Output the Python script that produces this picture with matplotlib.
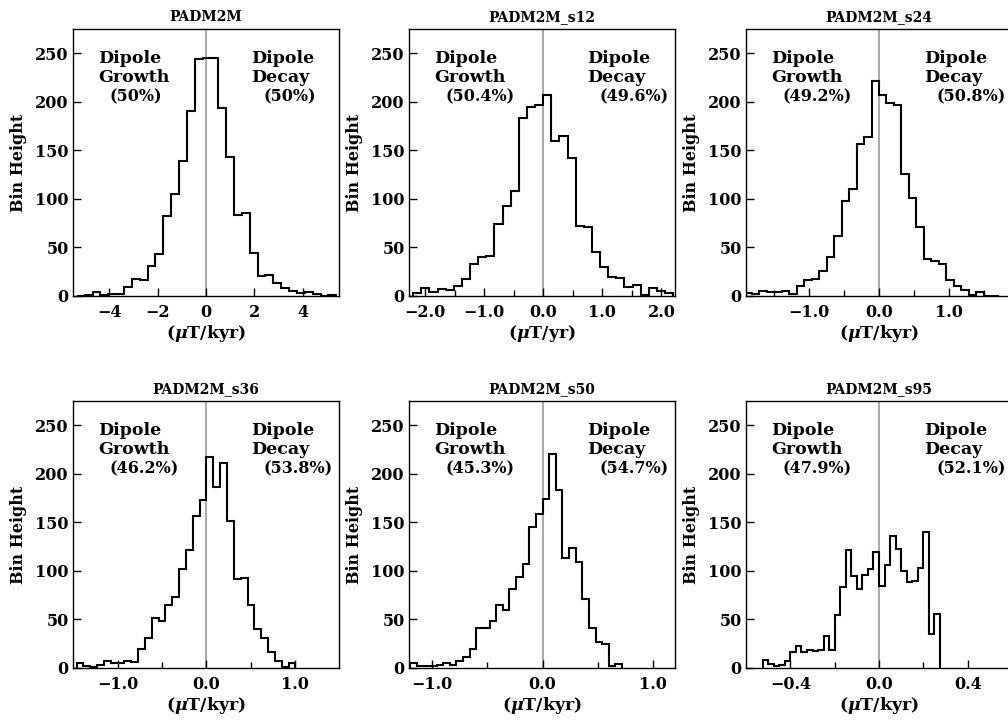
import matplotlib.pyplot as plt
import numpy as np

plt.rcParams['font.family'] = 'DejaVu Serif'
plt.rcParams['font.weight'] = 'bold'
plt.rcParams['mathtext.fontset'] = 'dejavuserif'

# Datos de cada panel
titles = ["PADM2M", "PADM2M_s12", "PADM2M_s24", "PADM2M_s36", "PADM2M_s50", "PADM2M_s95"]
growth_pct = ["50%", "50.4%", "49.2%", "46.2%", "45.3%", "47.9%"]
decay_pct = ["50%", "49.6%", "50.8%", "53.8%", "54.7%", "52.1%"]
units = ["kyr", "yr", "kyr", "kyr", "kyr", "kyr"]

bin_start = [-5.34, -2.2, -1.926, -1.47, -1.2, -0.525]
bin_width = [0.325, 0.1375, 0.107, 0.0774, 0.06, 0.025]

counts_padm2m = [0, 1, 4, 1, 2, 2, 9, 18, 16, 31, 43, 82, 105, 139, 191, 244, 245,
                 245, 194, 143, 83, 86, 44, 21, 22, 13, 8, 5, 3, 4, 2, 0, 1]
counts_s12 = [3, 8, 4, 7, 6, 10, 17, 33, 40, 41, 74, 93, 108, 183, 195, 197,
              207, 160, 165, 142, 72, 71, 45, 30, 20, 19, 9, 11, 1, 8, 5, 3]
counts_s24 = [3, 2, 5, 4, 4, 5, 2, 10, 16, 18, 26, 40, 62, 98, 110, 157, 164, 221,
              207, 199, 197, 126, 101, 71, 38, 36, 33, 16, 10, 6, 1, 4, 0, 0]
counts_s36 = [5, 2, 1, 3, 7, 5, 5, 7, 6, 20, 31, 51, 48, 65, 73, 102, 122, 157, 173,
              217, 186, 211, 151, 92, 93, 65, 40, 31, 16, 7, 1, 5]
counts_s50 = [5, 2, 2, 2, 3, 5, 3, 7, 11, 20, 41, 41, 48, 65, 60, 81, 94, 107, 145, 159,
              174, 220, 183, 113, 124, 109, 71, 41, 27, 25, 2, 4]
counts_s95 = [8, 4, 2, 3, 7, 16, 23, 16, 19, 18, 19, 33, 19, 55, 83, 122, 95, 81, 96, 102, 119,
              84, 106, 136, 123, 100, 89, 90, 103, 140, 35, 56]
all_counts = [counts_padm2m, counts_s12, counts_s24, counts_s36, counts_s50, counts_s95]

x_limits = [(-5.5, 5.5), (-2.27, 2.23), (-1.9, 1.9), (-1.51, 1.5), (-1.21, 1.2), (-0.6, 0.6)]
major_ticks = [[-4, -2, 0, 2, 4], [-2, -1, 0, 1, 2], [-1, 0, 1], [-1, 0, 1], [-1, 0, 1], [-0.4, 0, 0.4]]
tick_fmt = ["{:.0f}", "{:.1f}", "{:.1f}", "{:.1f}", "{:.1f}", "{:.1f}"]
minor_ticks = [[], [-1.5, -0.5, 0.5, 1.5], [-1.5, -0.5, 0.5, 1.5], [-0.5, 0.5], [-0.5, 0.5], [-0.2, 0.2]]

# Configuración general
W, H = 1008, 725
fig = plt.figure(figsize=(W / 100, H / 100), dpi=100)
col_left = [73, 409, 746]
row_top = [29, 401]
ax_w, ax_h = 266, 267

for i in range(6):
    r, c = divmod(i, 3)
    ax = fig.add_axes([col_left[c] / W, 1 - (row_top[r] + ax_h) / H, ax_w / W, ax_h / H])
    counts = np.array(all_counts[i])
    edges = bin_start[i] + bin_width[i] * np.arange(len(counts) + 1)
    ax.axvline(0, color="#999999", lw=1.2, zorder=1)
    ax.stairs(counts, edges, color="black", lw=1.5, zorder=2)

    ax.set_xlim(*x_limits[i])
    ax.set_ylim(0, 275)
    ax.set_yticks([0, 50, 100, 150, 200, 250])
    ax.set_xticks(major_ticks[i])
    ax.set_xticklabels([tick_fmt[i].format(v).replace("-", "\u2212") for v in major_ticks[i]])
    ax.set_xticks(minor_ticks[i], minor=True)
    ax.tick_params(which="major", direction="in", length=6, width=1, labelsize=11.5)
    ax.tick_params(axis="x", which="major", pad=6)
    ax.tick_params(axis="y", which="major", pad=3)
    ax.tick_params(which="minor", direction="in", length=4, width=1)
    for s in ax.spines.values():
        s.set_linewidth(1)

    ax.set_title(titles[i], fontsize=10, fontweight="bold", pad=6)
    ax.set_ylabel("Bin Height", fontsize=11.5, fontweight="bold", labelpad=6)
    ax.set_xlabel(r"($\mu$T/" + units[i] + ")", fontsize=12.5, fontweight="bold", labelpad=1)

    # Etiquetas de crecimiento / decaimiento
    ax.text(0.094, 0.92, "Dipole\nGrowth", transform=ax.transAxes,
            ha="left", va="top", fontsize=12.5, fontweight="bold", linespacing=1.1)
    ax.text(0.139, 0.778, "(" + growth_pct[i] + ")", transform=ax.transAxes,
            ha="left", va="top", fontsize=11.5, fontweight="bold")
    ax.text(0.671, 0.92, "Dipole\nDecay", transform=ax.transAxes,
            ha="left", va="top", fontsize=12.5, fontweight="bold", linespacing=1.1)
    ax.text(0.716, 0.778, "(" + decay_pct[i] + ")", transform=ax.transAxes,
            ha="left", va="top", fontsize=11.5, fontweight="bold")

plt.savefig("out.png", dpi=100)
